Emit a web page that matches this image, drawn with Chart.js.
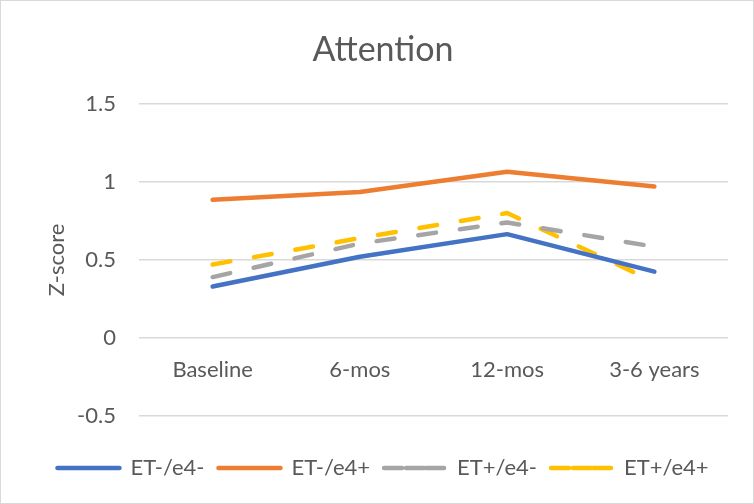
<!DOCTYPE html>
<html>
<head>
<meta charset="utf-8">
<script src="https://cdn.jsdelivr.net/npm/chart.js@4/dist/chart.umd.min.js"></script>
<style>
  html, body { margin: 0; padding: 0; background: #fff; }
  #wrap { position: relative; width: 754px; height: 504px; }
  #frame { position: absolute; left: 0; top: 0; width: 752px; height: 502px; border: 1px solid #d9d9d9; pointer-events: none; }
</style>
</head>
<body>
<div id="wrap">
  <canvas id="chart" width="754" height="504"></canvas>
  <div id="frame"></div>
</div>
<script>
const categories = ['Baseline', '6-mos', '12-mos', '3-6 years'];
const etNegE4Neg = [0.33, 0.52, 0.665, 0.425];
const etNegE4Pos = [0.885, 0.935, 1.065, 0.97];
const etPosE4Neg = [0.39, 0.605, 0.74, 0.585];
const etPosE4Pos = [0.47, 0.64, 0.80, 0.36];
const yTicks = [-0.5, 0, 0.5, 1, 1.5];

const textColor = '#595959';
const font = 'Lato, "Liberation Sans", sans-serif';

function series(label, data, color, dashed) {
    return {
        label: label,
        data: data,
        borderColor: color,
        backgroundColor: color,
        borderWidth: 4.5,
        borderCapStyle: 'round',
        borderJoinStyle: 'round',
        borderDash: dashed ? [18, 24] : [],
        pointRadius: 0,
        pointHoverRadius: 0,
        tension: 0,
        fill: false
    };
}

const ctx = document.getElementById('chart').getContext('2d');
new Chart(ctx, {
    type: 'line',
    data: {
        labels: categories,
        datasets: [
            series('ET-/e4-', etNegE4Neg, '#4472C4', false),
            series('ET-/e4+', etNegE4Pos, '#ED7D31', false),
            series('ET+/e4-', etPosE4Neg, '#A5A5A5', true),
            series('ET+/e4+', etPosE4Pos, '#FFC000', true)
        ]
    },
    options: {
        responsive: false,
        animation: false,
        devicePixelRatio: 1,
        layout: {
            padding: { left: 38, right: 26, top: 0, bottom: 15 }
        },
        plugins: {
            title: {
                display: true,
                text: 'Attention',
                color: textColor,
                font: { family: font, size: 34, weight: 'normal' },
                padding: { top: 30, bottom: 33 }
            },
            legend: {
                position: 'bottom',
                labels: {
                    color: textColor,
                    font: { family: font, size: 22 },
                    boxWidth: 62,
                    boxHeight: 0,
                    padding: 14
                }
            },
            tooltip: { enabled: false }
        },
        scales: {
            x: {
                position: { y: 0 },
                offset: true,
                grid: { display: false, drawTicks: false },
                border: { display: false },
                ticks: {
                    color: textColor,
                    font: { family: font, size: 22 },
                    padding: 19,
                    maxRotation: 0
                }
            },
            xb: {
                type: 'category',
                position: 'bottom',
                labels: categories,
                grid: { display: false, drawTicks: false },
                border: { display: false },
                ticks: { display: false },
                afterFit: function (scale) { scale.height = 27; }
            },
            y: {
                min: -0.5,
                max: 1.5,
                afterBuildTicks: function (scale) {
                    scale.ticks = yTicks.map(function (v) { return { value: v }; });
                },
                grid: { color: '#d9d9d9', lineWidth: 1.5, drawTicks: false },
                border: { display: false },
                ticks: {
                    color: textColor,
                    font: { family: font, size: 22 },
                    padding: 23,
                    callback: function (v) { return String(v); }
                },
                title: {
                    display: true,
                    text: 'Z-score',
                    color: textColor,
                    font: { family: font, size: 22 },
                    padding: { top: 6, bottom: 0 }
                },
                afterFit: function (scale) { scale.width = 101; }
            }
        }
    }
});
</script>
</body>
</html>
